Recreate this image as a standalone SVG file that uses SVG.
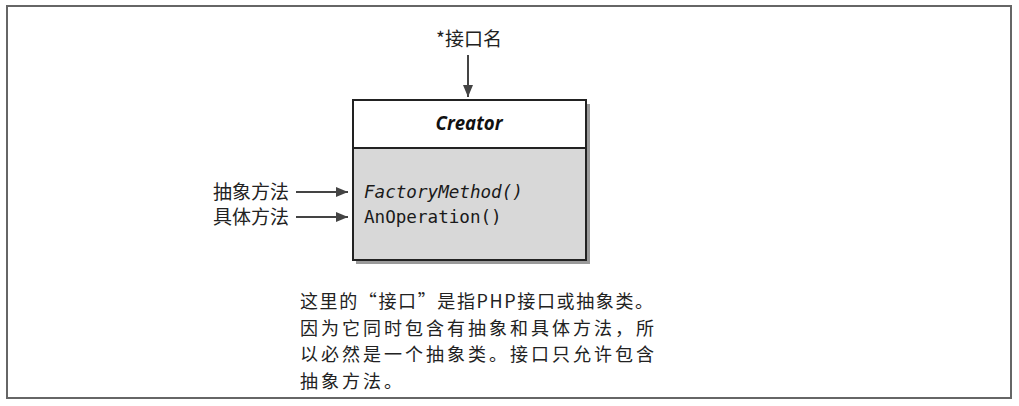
<svg xmlns="http://www.w3.org/2000/svg" width="1019" height="406" viewBox="0 0 1019 406">
<defs>
<marker id="ah" viewBox="0 0 12 10" refX="12" refY="5" markerWidth="12" markerHeight="10" markerUnits="userSpaceOnUse" orient="auto">
<path d="M0,0 L12,5 L0,10 z" fill="#444"/>
</marker>
</defs>
<style>
.cjk{font-family:"Noto Sans CJK SC","Noto Sans",sans-serif;fill:#222;}
.note{font-size:18px;letter-spacing:3px;}
.mono{font-family:"DejaVu Sans Mono","Liberation Mono",monospace;fill:#1a1a1a;font-size:17.6px;}
.conn{stroke:#444;stroke-width:2;fill:none;marker-end:url(#ah);}
</style>
<rect x="0" y="0" width="1019" height="406" fill="#fff"/>
<rect x="7" y="6" width="1004" height="392" fill="none" stroke="#666" stroke-width="2"/>
<g id="creator">
<rect x="356" y="104" width="234" height="160" fill="#9a9a9a"/>
<rect x="353" y="100" width="233" height="48" fill="#fff" stroke="#222" stroke-width="2"/>
<rect x="353" y="148" width="233" height="112" fill="#d8d8d8" stroke="#222" stroke-width="2"/>
<text x="469" y="130" text-anchor="middle" font-family="Open Sans, Liberation Sans, sans-serif" font-weight="bold" font-style="italic" font-size="20" textLength="67" lengthAdjust="spacingAndGlyphs" fill="#111">Creator</text>
<text class="mono" x="364" y="198" font-style="italic">FactoryMethod()</text>
<text class="mono" x="364" y="223">AnOperation()</text>
</g>
<g id="label-name">
<text class="cjk" x="469" y="46" text-anchor="middle" font-size="19">*接口名</text>
</g>
<g id="label-abstract">
<text class="cjk" x="213" y="199" font-size="19">抽象方法</text>
</g>
<g id="label-concrete">
<text class="cjk" x="213" y="224" font-size="19">具体方法</text>
</g>
<g id="note">
<text class="cjk note" x="300" y="308" textLength="356" lengthAdjust="spacing">这里的“接口”是指PHP接口或抽象类。</text>
<text class="cjk note" x="300" y="334.5">因为它同时包含有抽象和具体方法，所</text>
<text class="cjk note" x="300" y="361">以必然是一个抽象类。接口只允许包含</text>
<text class="cjk note" x="300" y="387.5">抽象方法。</text>
</g>
<g id="connectors">
<line class="conn" x1="468" y1="55" x2="468" y2="97"/>
<line class="conn" x1="296" y1="192" x2="348" y2="192"/>
<line class="conn" x1="296" y1="217" x2="348" y2="217"/>
</g>
</svg>
